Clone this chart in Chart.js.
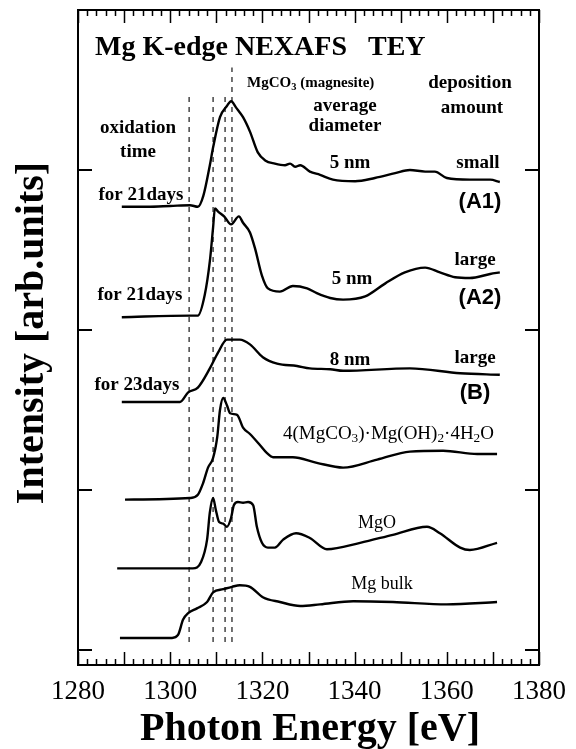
<!DOCTYPE html>
<html>
<head>
<meta charset="utf-8">
<script src="https://cdn.jsdelivr.net/npm/chart.js@4.4.1/dist/chart.umd.min.js"></script>
<style>
  html, body { margin: 0; padding: 0; background: #fff; }
  #c { display: block; }
</style>
</head>
<body>
<canvas id="c" width="576" height="749"></canvas>
<script>
// spectra (photon energy in eV, intensity in stacked arb. units)
const energyA1 = [1289.5, 1295, 1300, 1304.3, 1306.0, 1307.2, 1308.6, 1309.3, 1310.8, 1312.3, 1313.2, 1314.3, 1315.8, 1317.3, 1319.0, 1320.6, 1322.7, 1324.9, 1326.0, 1327.1, 1328.2, 1330.3, 1332.5, 1335.3, 1340.1, 1344.4, 1348.8, 1352.0, 1355.3, 1357.4, 1360.0, 1365.0, 1369.4, 1371.5];
const intensityA1 = [2.77, 2.77, 2.775, 2.78, 2.77, 2.84, 3.03, 3.14, 3.33, 3.40, 3.43, 3.39, 3.33, 3.24, 3.11, 3.06, 3.04, 3.03, 3.04, 3.02, 3.03, 2.99, 2.97, 2.94, 2.93, 2.95, 2.98, 3.00, 2.99, 2.99, 2.95, 2.94, 2.94, 2.925];

const energyA2 = [1289.5, 1304.3, 1306.0, 1307.5, 1308.6, 1309.3, 1309.7, 1310.4, 1311.7, 1313.2, 1314.9, 1315.8, 1317.3, 1318.4, 1319.9, 1321.2, 1323.8, 1326.6, 1329.7, 1331.8, 1334.7, 1337.5, 1342.3, 1346.6, 1350.9, 1355.3, 1358.5, 1361.8, 1365.0, 1369.4, 1371.5];
const intensityA2 = [2.08, 2.09, 2.09, 2.22, 2.43, 2.64, 2.76, 2.74, 2.71, 2.66, 2.71, 2.67, 2.61, 2.51, 2.34, 2.26, 2.24, 2.275, 2.26, 2.23, 2.20, 2.19, 2.21, 2.29, 2.36, 2.39, 2.36, 2.33, 2.325, 2.35, 2.36];

const energyB = [1289.5, 1302.1, 1303.9, 1306.0, 1308.6, 1310.4, 1312.3, 1315.1, 1317.3, 1320.1, 1323.2, 1327.5, 1330.3, 1334.7, 1337.5, 1352.0, 1362.9, 1371.5];
const intensityB = [1.55, 1.55, 1.61, 1.64, 1.76, 1.86, 1.94, 1.94, 1.91, 1.83, 1.79, 1.775, 1.76, 1.755, 1.745, 1.76, 1.73, 1.72];

const energyHydro = [1290.2, 1304.3, 1306.0, 1307.1, 1308.2, 1309.3, 1310.2, 1310.8, 1311.5, 1312.3, 1313.0, 1314.5, 1315.8, 1317.3, 1319.5, 1321.0, 1322.3, 1326.6, 1331.8, 1337.5, 1344.9, 1352.0, 1359.2, 1366.6, 1370.9];
const intensityHydro = [0.94, 0.95, 0.97, 1.04, 1.14, 1.20, 1.33, 1.50, 1.575, 1.53, 1.48, 1.47, 1.39, 1.35, 1.28, 1.23, 1.205, 1.205, 1.17, 1.14, 1.19, 1.24, 1.245, 1.225, 1.225];

const energyMgO = [1288.5, 1304.9, 1306.7, 1308.0, 1308.6, 1309.3, 1309.9, 1310.6, 1311.5, 1312.3, 1313.2, 1313.8, 1314.7, 1315.8, 1316.9, 1318.0, 1318.8, 1319.9, 1321.2, 1322.7, 1324.5, 1327.3, 1330.3, 1334.0, 1341.2, 1348.3, 1355.7, 1358.5, 1362.9, 1365.0, 1370.9];
const intensityMgO = [0.51, 0.51, 0.55, 0.69, 0.86, 0.95, 0.875, 0.80, 0.79, 0.77, 0.825, 0.905, 0.925, 0.92, 0.925, 0.905, 0.77, 0.67, 0.64, 0.64, 0.69, 0.73, 0.70, 0.63, 0.67, 0.72, 0.77, 0.73, 0.64, 0.625, 0.67];

const energyBulk = [1289.1, 1300.4, 1301.7, 1302.8, 1303.9, 1305.8, 1308.0, 1309.3, 1311.5, 1313.4, 1315.1, 1317.3, 1320.1, 1323.8, 1328.2, 1332.5, 1339.7, 1348.3, 1360.0, 1370.9];
const intensityBulk = [0.075, 0.075, 0.094, 0.19, 0.23, 0.26, 0.30, 0.36, 0.38, 0.395, 0.405, 0.395, 0.33, 0.30, 0.275, 0.285, 0.305, 0.30, 0.285, 0.30];

// vertical reference lines (eV) and their extent in intensity units
const refEnergies = [1304.1, 1309.3, 1311.9, 1313.4];
const refTops = [3.46, 3.46, 3.46, 3.64];
const refBottom = 0.05;

const xTickLabels = [1280, 1300, 1320, 1340, 1360, 1380];
const yMajorTicks = [0, 1, 2, 3];

const SERIF = "'Liberation Serif', 'Times New Roman', serif";
const SANS = "'Liberation Sans', Arial, sans-serif";

const pts = (xs, ys) => xs.map((x, i) => ({ x: x, y: ys[i] }));

const spectra = [
  [energyA1, intensityA1],
  [energyA2, intensityA2],
  [energyB, intensityB],
  [energyHydro, intensityHydro],
  [energyMgO, intensityMgO],
  [energyBulk, intensityBulk],
];

const datasets = spectra.map(s => ({
  data: pts(s[0], s[1]),
  borderColor: "#000",
  borderWidth: 2.4,
  pointRadius: 0,
  fill: false,
  cubicInterpolationMode: "monotone",
}));

refEnergies.forEach((e, i) => {
  datasets.push({
    data: [{ x: e, y: refBottom }, { x: e, y: refTops[i] }],
    borderColor: "#000",
    borderWidth: 1.1,
    borderDash: [5, 5],
    pointRadius: 0,
    fill: false,
  });
});

// draws text where some pieces are subscripts
function drawRich(ctx, parts, x, y, size, weight, align) {
  const font = (s) => weight + " " + s + "px " + SERIF;
  let total = 0;
  parts.forEach(p => {
    ctx.font = font(p[1] ? size * 0.7 : size);
    total += ctx.measureText(p[0]).width;
  });
  let cx = align === "center" ? x - total / 2 : x;
  ctx.textAlign = "left";
  ctx.textBaseline = "alphabetic";
  parts.forEach(p => {
    ctx.font = font(p[1] ? size * 0.7 : size);
    ctx.fillText(p[0], cx, p[1] ? y + size * 0.18 : y);
    cx += ctx.measureText(p[0]).width;
  });
}

const decorations = {
  id: "decorations",
  afterDraw(chart) {
    const ctx = chart.ctx;
    const a = chart.chartArea;
    const xs = chart.scales.x;
    const ys = chart.scales.y;
    ctx.save();
    ctx.strokeStyle = "#000";
    ctx.fillStyle = "#000";

    // frame
    ctx.lineWidth = 2;
    ctx.strokeRect(a.left, a.top, a.right - a.left, a.bottom - a.top);

    // x ticks, bottom and top
    ctx.lineWidth = 1.5;
    for (let v = 1280; v <= 1380; v += 2) {
      const px = Math.round(xs.getPixelForValue(v)) + 0.5;
      const len = v % 10 === 0 ? 13 : 6;
      ctx.beginPath();
      ctx.moveTo(px, a.bottom);
      ctx.lineTo(px, a.bottom - len);
      ctx.moveTo(px, a.top);
      ctx.lineTo(px, a.top + len);
      ctx.stroke();
    }

    // y ticks, left and right
    ctx.lineWidth = 2;
    yMajorTicks.forEach(v => {
      const py = Math.round(ys.getPixelForValue(v));
      ctx.beginPath();
      ctx.moveTo(a.left, py);
      ctx.lineTo(a.left + 14, py);
      ctx.moveTo(a.right, py);
      ctx.lineTo(a.right - 14, py);
      ctx.stroke();
    });

    // axis titles
    ctx.font = "bold 40px " + SERIF;
    ctx.textAlign = "center";
    ctx.textBaseline = "alphabetic";
    ctx.fillText("Photon Energy [eV]", 310, 740);

    ctx.save();
    ctx.translate(43, 333);
    ctx.rotate(-Math.PI / 2);
    ctx.fillText("Intensity [arb.units]", 0, 0);
    ctx.restore();

    // plot title
    ctx.font = "bold 28px " + SERIF;
    ctx.textAlign = "left";
    ctx.fillText("Mg K-edge NEXAFS   TEY", 95, 55);

    drawRich(ctx, [["MgCO", false], ["3", true], [" (magnesite)", false]], 247, 87, 15, "bold", "left");

    // bold annotations
    ctx.font = "bold 19px " + SERIF;
    ctx.textAlign = "center";
    ctx.textBaseline = "middle";
    const notes = [
      ["oxidation", 138, 128], ["time", 138, 152],
      ["average", 345, 106], ["diameter", 345, 126],
      ["deposition", 470, 83], ["amount", 472, 108],
      ["5 nm", 350, 163], ["small", 478, 163], ["for 21days", 141, 195],
      ["large", 475, 260], ["5 nm", 352, 279], ["for 21days", 140, 295],
      ["8 nm", 350, 360], ["large", 475, 358], ["for 23days", 137, 385],
    ];
    notes.forEach(n => ctx.fillText(n[0], n[1], n[2]));

    ctx.font = "bold 22px " + SANS;
    ctx.fillText("(A1)", 480, 202);
    ctx.fillText("(A2)", 480, 298);
    ctx.fillText("(B)", 475, 393);

    // reference compound labels
    drawRich(ctx, [["4(MgCO", false], ["3", true], [")\u00b7Mg(OH)", false], ["2", true],
      ["\u00b74H", false], ["2", true], ["O", false]], 283, 439, 19, "normal", "left");
    ctx.font = "18px " + SERIF;
    ctx.textAlign = "center";
    ctx.textBaseline = "alphabetic";
    ctx.fillText("MgO", 377, 528);
    ctx.fillText("Mg bulk", 382, 589);

    ctx.restore();
  },
};

new Chart(document.getElementById("c"), {
  type: "line",
  data: { datasets: datasets },
  options: {
    responsive: false,
    animation: false,
    events: [],
    layout: { padding: { top: 10, right: 37, left: 0, bottom: 0 } },
    plugins: { legend: { display: false }, tooltip: { enabled: false } },
    scales: {
      x: {
        type: "linear",
        min: 1280,
        max: 1380,
        afterBuildTicks: s => { s.ticks = xTickLabels.map(v => ({ value: v })); },
        afterFit: s => { s.height = 84; s.paddingLeft = 0; s.paddingRight = 0; },
        grid: { display: false, drawTicks: false },
        border: { display: false },
        ticks: {
          color: "#000",
          font: { family: SERIF, size: 27 },
          padding: 11,
          maxRotation: 0,
          autoSkip: false,
          callback: v => String(v),
        },
      },
      y: {
        type: "linear",
        min: -0.09375,
        max: 4,
        afterFit: s => { s.width = 78; },
        grid: { display: false, drawTicks: false },
        border: { display: false },
        ticks: { display: false },
      },
    },
  },
  plugins: [decorations],
});
</script>
</body>
</html>
